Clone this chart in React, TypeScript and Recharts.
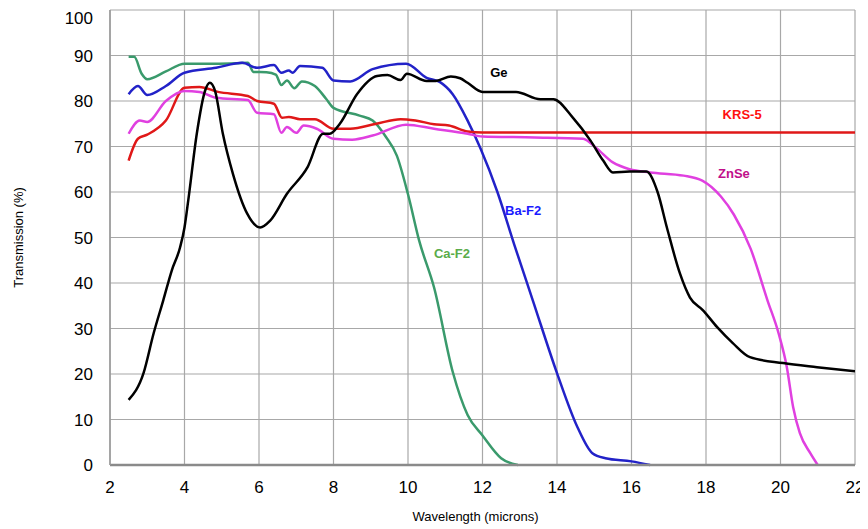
import React from 'react';
import { LineChart, Line, XAxis, YAxis, CartesianGrid, ReferenceDot } from 'recharts';

type P = [number, number];

const xTicks = [2, 4, 6, 8, 10, 12, 14, 16, 18, 20, 22];
const yTicks = [0, 10, 20, 30, 40, 50, 60, 70, 80, 90, 100];

const caF2: P[] = [[2.5,89.7],[2.65,89.7],[2.85,86],[3.0,84.8],[3.5,86.5],[4.0,88.2],[4.8,88.2],[5.4,88.3],[5.7,88.4],[5.85,86.4],[6.2,86.3],[6.45,85.8],[6.6,83.5],[6.75,84.5],[6.95,82.8],[7.15,84.3],[7.5,83.3],[7.8,80.5],[8.0,78.5],[8.7,76.8],[9.05,75.7],[9.4,72.2],[9.7,68],[10.0,59.5],[10.3,49.3],[10.7,39],[11.2,20.5],[11.6,11],[12.0,6.5],[12.5,1.5],[12.95,0]];

const baF2: P[] = [[2.5,81.5],[2.75,83.3],[3.0,81.3],[3.5,83.3],[4.0,86.2],[4.85,87.3],[5.55,88.4],[5.95,87.3],[6.4,87.9],[6.6,86.2],[6.8,86.7],[6.9,86.2],[7.1,87.7],[7.7,87.3],[8.0,84.5],[8.45,84.3],[9.05,87],[9.95,88.2],[10.5,85.1],[10.85,84.2],[11.2,81.5],[11.6,75.7],[11.95,69.5],[12.4,60],[12.85,48.5],[13.35,36.2],[14.0,20.2],[14.55,8.3],[14.95,2.6],[15.3,1.5],[16.0,0.8],[16.5,0]];

const krs5: P[] = [[2.5,66.9],[2.75,71.7],[3.0,72.6],[3.5,75.7],[4.0,82.9],[4.4,83.1],[4.9,82],[5.7,81.1],[5.95,80],[6.4,79.4],[6.62,76.3],[6.8,76.5],[7.1,76.0],[7.5,76],[8.0,73.9],[8.45,73.9],[9.15,75],[9.8,76],[10.2,75.7],[10.7,74.9],[11.1,74.6],[11.6,73.3],[12.0,73.1],[22,73.1]];

const znSe: P[] = [[2.5,72.8],[2.8,75.7],[3.0,75.4],[3.5,80],[4.0,82.2],[4.4,82],[4.85,80.7],[5.7,80.2],[5.95,77.4],[6.4,77.1],[6.6,73],[6.75,74.3],[7.0,73],[7.2,74.6],[7.55,73.9],[8.0,71.7],[8.5,71.5],[9.05,72.4],[9.95,74.8],[10.7,73.9],[11.6,72.8],[12.0,72.2],[13.4,72],[14.7,71.7],[15.05,69.7],[15.5,66.5],[15.95,65],[16.5,64.3],[17.4,63.6],[17.9,62.5],[18.4,59],[18.75,55],[19.2,47.5],[19.65,36.2],[19.95,28.9],[20.17,21.5],[20.34,12.7],[20.52,7],[20.8,2.6],[21.0,0]];

const ge: P[] = [[2.5,14.3],[2.9,20.2],[3.17,28.9],[3.43,36.2],[3.66,42.8],[3.88,47.8],[4.0,52.2],[4.1,58.1],[4.33,72.8],[4.55,82.2],[4.68,84],[4.82,82.2],[5.03,72.8],[5.3,64],[5.68,55.3],[6.03,52.2],[6.3,53.7],[6.75,59.6],[7.3,65.4],[7.72,72.8],[7.9,72.8],[8.17,75],[8.63,81.5],[9.17,85.5],[9.45,85.7],[9.8,84.6],[9.97,86],[10.5,84.4],[10.75,84.4],[11.15,85.4],[11.4,85],[11.6,84],[12.0,82],[12.9,82],[13.55,80.4],[13.9,80.4],[14.43,76.3],[14.9,71.3],[15.24,66.9],[15.5,64.3],[15.95,64.5],[16.4,64.5],[16.7,60],[16.95,52.2],[17.3,42.1],[17.57,36.8],[17.92,34],[18.3,30.3],[18.72,26.8],[19.18,23.7],[20.07,22.4],[20.98,21.5],[22,20.6]];

const seriesNames = ['Ca-F2', 'Ba-F2', 'KRS-5', 'ZnSe', 'Ge'];
const seriesData = [caF2, baF2, krs5, znSe, ge];
const lineColors = ['#3a9a6c', '#2222c8', '#e01818', '#e040e0', '#000000'];
const labelColors = ['#5aac4a', '#1a1aff', '#ff1010', '#c0108a', '#000000'];
const labelPos: P[] = [[11.18, 46.4], [13.09, 56], [18.97, 77.1], [18.75, 64], [12.44, 86.2]];

const FONT = "'Liberation Sans', Arial, sans-serif";

const toRows = (pts: P[]) => pts.map(([x, y]) => ({ x, y }));

export default function App() {
  return (
    <LineChart width={860} height={521} margin={{ top: 2, right: 13, bottom: 0, left: 0 }} style={{ fontFamily: FONT }}>
      <CartesianGrid stroke="#a8a8a8" strokeWidth={1.2} />
      <XAxis
        type="number"
        dataKey="x"
        domain={[2, 22]}
        ticks={xTicks}
        allowDataOverflow
        height={64}
        tickLine={false}
        tickMargin={10}
        axisLine={{ stroke: '#8a8a8a', strokeWidth: 2.5 }}
        tick={{ fill: '#000', fontSize: 17, fontFamily: FONT }}
        label={{
          content: (props: any) => {
            const vb = props.viewBox;
            return (
              <text x={vb.x + vb.width / 2 - 7} y={510} textAnchor="middle" fontSize={13} fill="#000" fontFamily={FONT} dominantBaseline="middle">
                Wavelength (microns)
              </text>
            );
          },
        }}
      />
      <YAxis
        type="number"
        domain={[0, 100]}
        ticks={yTicks}
        width={102}
        tickLine={false}
        tickMargin={11}
        axisLine={{ stroke: '#999', strokeWidth: 1.5 }}
        tick={{ fill: '#000', fontSize: 17, fontFamily: FONT }}
        label={{
          content: (props: any) => {
            const vb = props.viewBox;
            const cy = vb.y + vb.height / 2;
            return (
              <text x={12} y={cy} transform={`rotate(-90, 12, ${cy})`} textAnchor="middle" fontSize={13} fill="#000" fontFamily={FONT} dominantBaseline="middle">
                Transmission (%)
              </text>
            );
          },
        }}
      />
      {seriesData.map((pts, i) => (
        <Line
          key={seriesNames[i]}
          data={toRows(pts)}
          dataKey="y"
          type="monotone"
          stroke={lineColors[i]}
          strokeWidth={2.5}
          dot={false}
          activeDot={false}
          isAnimationActive={false}
        />
      ))}
      {seriesNames.map((name, i) => (
        <ReferenceDot
          key={'lbl' + name}
          x={labelPos[i][0]}
          y={labelPos[i][1]}
          r={0}
          stroke="none"
          fill="none"
          label={{ value: name, position: 'center', fill: labelColors[i], fontSize: 13, fontWeight: 'bold', fontFamily: FONT }}
        />
      ))}
    </LineChart>
  );
}
